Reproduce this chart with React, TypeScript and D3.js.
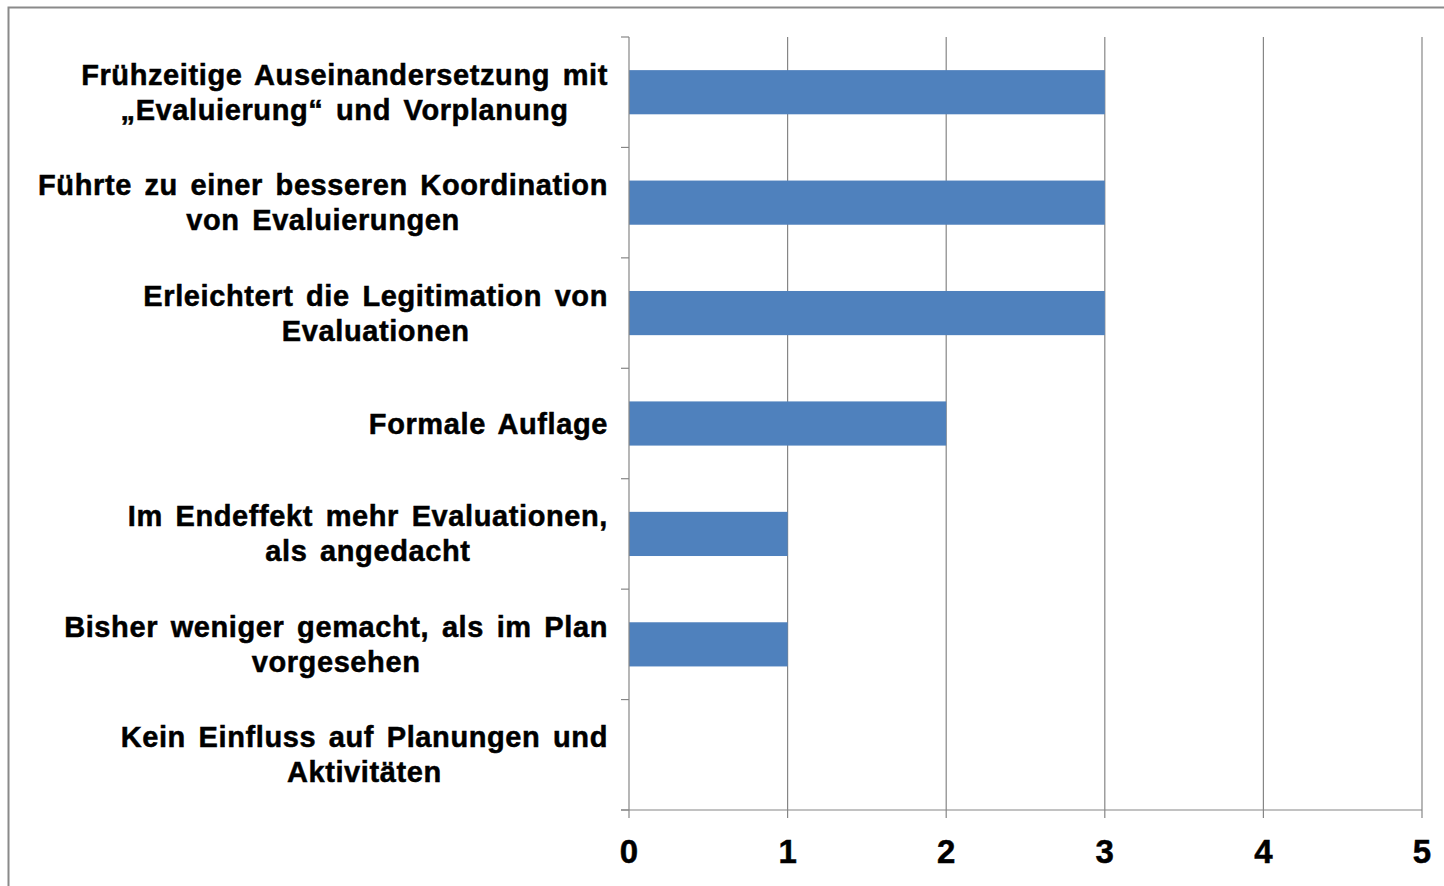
import React, { useEffect, useRef } from "react";
import * as d3 from "d3";

const categories: string[][] = [
  ["Frühzeitige Auseinandersetzung mit", "„Evaluierung“ und Vorplanung"],
  ["Führte zu einer besseren Koordination", "von Evaluierungen"],
  ["Erleichtert die Legitimation von", "Evaluationen"],
  ["Formale Auflage"],
  ["Im Endeffekt mehr Evaluationen,", "als angedacht"],
  ["Bisher weniger gemacht, als im Plan", "vorgesehen"],
  ["Kein Einfluss auf Planungen und", "Aktivitäten"],
];
const values: number[] = [3, 3, 3, 2, 1, 1, 0];
const xTicks: number[] = [0, 1, 2, 3, 4, 5];

const W = 1444;
const H = 886;
const left = 629;
const right = 1422;
const top = 37;
const bottom = 810;

export default function App() {
  const ref = useRef<SVGSVGElement>(null);
  useEffect(() => {
    const svg = d3.select(ref.current);
    svg.selectAll("*").remove();
    const x = d3.scaleLinear().domain([0, 5]).range([left, right]);
    const y = d3
      .scaleBand<number>()
      .domain(d3.range(categories.length))
      .range([top, bottom])
      .paddingInner(0.6)
      .paddingOuter(0.3);
    const band = (bottom - top) / categories.length;

    svg.append("rect").attr("x", 0).attr("y", 0).attr("width", W).attr("height", H).attr("fill", "#fff");
    svg
      .append("rect")
      .attr("x", 8.5)
      .attr("y", 7.5)
      .attr("width", W + 10)
      .attr("height", H + 10)
      .attr("fill", "none")
      .attr("stroke", "#8a8a8a")
      .attr("stroke-width", 2);

    // gridlines
    svg
      .selectAll(".grid")
      .data(xTicks.filter((t) => t > 0))
      .enter()
      .append("line")
      .attr("x1", (d) => x(d))
      .attr("x2", (d) => x(d))
      .attr("y1", top)
      .attr("y2", bottom + 8)
      .attr("stroke", "#868686")
      .attr("stroke-width", 1.2);

    // bars
    svg
      .selectAll(".bar")
      .data(values)
      .enter()
      .append("rect")
      .attr("x", x(0))
      .attr("y", (_, i) => y(i)!)
      .attr("width", (d) => x(d) - x(0))
      .attr("height", y.bandwidth())
      .attr("fill", "#4F81BD");

    // axes lines
    svg
      .append("line")
      .attr("x1", left)
      .attr("x2", left)
      .attr("y1", top)
      .attr("y2", bottom + 8)
      .attr("stroke", "#868686")
      .attr("stroke-width", 1.2);
    svg
      .append("line")
      .attr("x1", left - 8)
      .attr("x2", right)
      .attr("y1", bottom)
      .attr("y2", bottom)
      .attr("stroke", "#868686")
      .attr("stroke-width", 1.2);
    // category ticks
    svg
      .selectAll(".ctick")
      .data(d3.range(categories.length + 1))
      .enter()
      .append("line")
      .attr("x1", left - 8)
      .attr("x2", left)
      .attr("y1", (d) => top + d * band)
      .attr("y2", (d) => top + d * band)
      .attr("stroke", "#868686")
      .attr("stroke-width", 1.2);

    // x tick labels
    svg
      .selectAll(".xl")
      .data(xTicks)
      .enter()
      .append("text")
      .attr("x", (d) => x(d))
      .attr("y", 863)
      .attr("text-anchor", "middle")
      .attr("font-family", "Liberation Sans, Arial, sans-serif")
      .attr("font-weight", "bold")
      .attr("font-size", 33)
      .attr("stroke", "#000")
      .attr("stroke-width", 0.5)
      .attr("fill", "#000")
      .text((d) => String(d));

    // category labels
    const lineH = 35;
    const rightEdge = 608;
    categories.forEach((lines, i) => {
      const cy = top + (i + 0.5) * band;
      const g = svg.append("g");
      const texts = lines.map((ln, j) =>
        g
          .append("text")
          .attr("y", cy + (j - (lines.length - 1) / 2) * lineH + 10)
          .attr("text-anchor", "middle")
          .attr("font-family", "Liberation Sans, Arial, sans-serif")
          .attr("font-weight", "bold")
          .attr("font-size", 29)
          .attr("letter-spacing", 0.6)
          .attr("word-spacing", 4)
          .attr("stroke", "#000")
          .attr("stroke-width", 0.5)
          .attr("fill", "#000")
          .text(ln)
      );
      const widths = texts.map((t) => (t.node() as SVGTextElement).getComputedTextLength());
      const maxW = Math.max(...widths);
      texts.forEach((t) => t.attr("x", rightEdge - maxW / 2));
    });
  }, []);
  return (
    <svg
      ref={ref}
      width={W}
      height={H}
      style={{ position: "absolute", left: 0, top: 0, display: "block" }}
    />
  );
}
